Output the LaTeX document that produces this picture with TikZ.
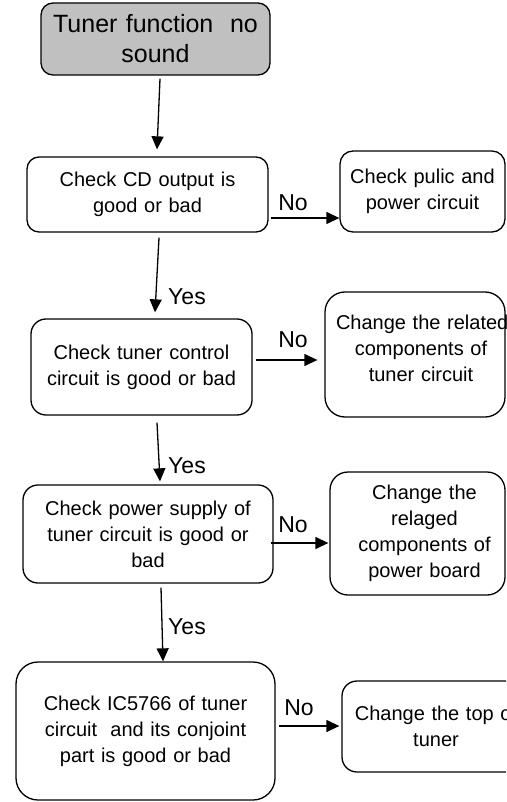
\documentclass[tikz,border=0pt]{standalone}
\usepackage{fontspec}
\setmainfont{Liberation Sans}
\usetikzlibrary{arrows.meta}
\definecolor{titlegray}{RGB}{192,192,192}
\tikzset{
  box/.style={draw=black, line width=1.3pt, align=center, inner sep=5pt,
    font=\fontsize{20}{26}\selectfont},
  lbl/.style={inner sep=0pt, font=\fontsize{23}{26}\selectfont},
  arr/.style={line width=1.3pt, -{Triangle[length=13pt,width=12pt]}}
}
\begin{document}
\begin{tikzpicture}[x=1pt,y=-1pt]
\useasboundingbox (0,0) rectangle (506,802);
\clip (0,0) rectangle (506,802);
\fill[white] (0,0) rectangle (506,802);

\node[box, fill=titlegray, rounded corners=12pt, minimum width=229pt, minimum height=72pt,
  text width=219pt, font=\fontsize{25}{30}\selectfont] (b1) at (155.5,39) {Tuner function\ \ no\\sound};
\node[box, rounded corners=12pt, minimum width=241pt, minimum height=75pt, text width=231pt]
  (b2) at (147.5,194.5) {Check CD output is\\good or bad};
\node[box, rounded corners=13pt, minimum width=165pt, minimum height=81pt, text width=155pt]
  (b3) at (422.5,191.5) {Check pulic and\\power circuit};
\node[box, rounded corners=15pt, minimum width=221pt, minimum height=96pt, text width=211pt]
  (b4) at (141.5,367) {Check tuner control\\circuit is good or bad};
\node[box, rounded corners=20pt, minimum width=180pt, minimum height=125pt, text width=170pt]
  (b5) at (415,354.5) {\makebox[\linewidth][l]{\hspace*{6pt}Change the related}\\\hspace*{12pt}components of\\\hspace*{12pt}tuner circuit\\[-14pt]\mbox{}};
\node[box, rounded corners=15pt, minimum width=250pt, minimum height=98pt, text width=240pt]
  (b6) at (148,534) {Check power supply of\\tuner circuit is good or\\bad};
\node[box, rounded corners=18pt, minimum width=175pt, minimum height=123pt, text width=165pt]
  (b7) at (417.5,533.5) {\hspace*{14pt}Change the\\\hspace*{14pt}relaged\\\hspace*{14pt}components of\\\hspace*{14pt}power board};
\node[box, rounded corners=22pt, minimum width=259pt, minimum height=138pt, text width=249pt]
  (b8) at (145.5,731) {Check IC5766 of tuner\\circuit\ \ and its conjoint\\part is good or bad};
\node[box, rounded corners=15pt, minimum width=188pt, minimum height=91pt, text width=178pt]
  (b9) at (436,726.5) {Change the top of\\tuner};

% vertical connectors
\draw[arr] ([xshift=4.5pt,yshift=-3pt]b1.south) -- ([xshift=9.5pt,yshift=7pt]b2.north);
\draw[arr] ([xshift=11.5pt,yshift=-5pt]b2.south) -- ([xshift=13.5pt,yshift=6pt]b4.north);
\draw[arr] ([xshift=15.5pt,yshift=-7pt]b4.south) -- ([xshift=12pt,yshift=3pt]b6.north);
\draw[arr] ([xshift=13pt,yshift=-4pt]b6.south) -- ([xshift=17.5pt]b8.north);

% horizontal connectors
\coordinate (nA) at ([xshift=2pt,yshift=-23.5pt]b2.east);
\draw[arr] (nA) -- (nA -| b3.west);
\coordinate (nB) at ([xshift=3pt,yshift=7pt]b4.east);
\draw[arr, shorten >=7pt] (nB) -- (nB -| b5.west);
\coordinate (nC) at ([xshift=-3pt,yshift=-9pt]b6.east);
\draw[arr, shorten >=1pt] (nC) -- (nC -| b7.west);
\coordinate (nD) at ([xshift=3pt,yshift=5pt]b8.east);
\draw[arr, shorten >=2pt] (nD) -- (nD -| b9.west);

% labels
\node[lbl] (no1) at (293,203) {No};
\node[lbl] (no2) at (293,340) {No};
\node[lbl] (no3) at (293,525) {No};
\node[lbl] (no4) at (299,708) {No};
\node[lbl] (yes1) at (187,297) {Yes};
\node[lbl] (yes2) at (187,466) {Yes};
\node[lbl] (yes3) at (187,627) {Yes};
\end{tikzpicture}
\end{document}
